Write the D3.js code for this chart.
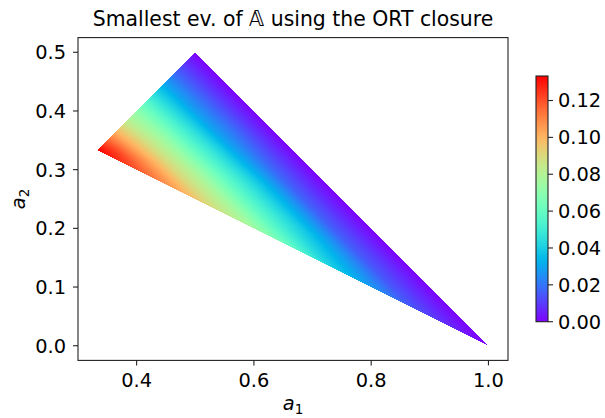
<!DOCTYPE html>
<html>
<head>
<meta charset="utf-8">
<script src="https://cdn.jsdelivr.net/npm/d3@7"></script>
<style>
  body { margin: 0; background: #fff; }
  svg { font-family: "DejaVu Sans", sans-serif; }
</style>
</head>
<body>
<div id="chart"></div>
<script>
// a3 = 1 - a1 - a2 levels (rows) and position across the triangle (columns):
// t = 0 on the a1 = a2 edge, t = 1 on the a2 = a3 edge
const a3Levels = [0, 1/30, 2/30, 3/30, 4/30, 5/30, 6/30, 7/30, 8/30, 9/30, 10/30];
const acrossSteps = [0, 0.25, 0.5, 0.75, 1];
// smallest eigenvalue
const smallestEv = [
  [0.000, 0.000, 0.000, 0.000, 0.000],
  [0.008, 0.009, 0.008, 0.008, 0.007],
  [0.017, 0.019, 0.017, 0.016, 0.015],
  [0.028, 0.029, 0.032, 0.031, 0.027],
  [0.041, 0.044, 0.046, 0.045, 0.040],
  [0.056, 0.058, 0.060, 0.059, 0.058],
  [0.070, 0.074, 0.076, 0.076, 0.075],
  [0.082, 0.087, 0.089, 0.089, 0.088],
  [0.098, 0.102, 0.105, 0.105, 0.104],
  [0.116, 0.120, 0.121, 0.120, 0.119],
  [0.1333, 0.1333, 0.1333, 0.1333, 0.1333]
];
const corners = [[1/3, 1/3], [0.5, 0.5], [1, 0]];
const xTicks = [0.4, 0.6, 0.8, 1.0];
const yTicks = [0.0, 0.1, 0.2, 0.3, 0.4, 0.5];
const cbTicks = [0.00, 0.02, 0.04, 0.06, 0.08, 0.10, 0.12];

const W = 605, H = 418;
const plot = {left: 78, right: 508, top: 37.6, bottom: 360.4};

const x = d3.scaleLinear().domain([0.3, 1 + 1/30]).range([plot.left, plot.right]);
const y = d3.scaleLinear().domain([-0.025, 0.525]).range([plot.bottom, plot.top]);

// matplotlib "rainbow"
const clip = v => Math.max(0, Math.min(1, v));
const mplRainbow = f => d3.rgb(
  255 * clip(Math.abs(2 * f - 0.5)),
  255 * clip(Math.sin(f * Math.PI)),
  255 * clip(Math.cos(f * Math.PI / 2))
);
const vmax = d3.max(smallestEv, r => d3.max(r));
const color = d3.scaleSequential(mplRainbow).domain([0, vmax]);

const svg = d3.select("#chart").append("svg")
  .attr("width", W).attr("height", H);

// field image
function evAt(a1, a2) {
  const c = 1 - a1 - a2;
  if (c < -1e-9 || a2 < c - 1e-9 || a1 < a2 - 1e-9) return null;
  const span = (1 - 3 * c) / 2;
  const t = span > 1e-9 ? clip((a1 - (1 - c) / 2) / span) : 0.5;
  const ri = clip(c / a3Levels[a3Levels.length - 1]) * (a3Levels.length - 1);
  const ci = t * (acrossSteps.length - 1);
  const i0 = Math.min(Math.floor(ri), a3Levels.length - 2), fi = ri - i0;
  const j0 = Math.min(Math.floor(ci), acrossSteps.length - 2), fj = ci - j0;
  const g = smallestEv;
  const top = g[i0][j0] * (1 - fj) + g[i0][j0 + 1] * fj;
  const bot = g[i0 + 1][j0] * (1 - fj) + g[i0 + 1][j0 + 1] * fj;
  return top * (1 - fi) + bot * fi;
}

const imgLeft = Math.round(plot.left), imgTop = Math.floor(plot.top);
const pw = Math.round(plot.right - plot.left), ph = Math.ceil(plot.bottom) - imgTop;
const canvas = document.createElement("canvas");
canvas.width = pw; canvas.height = ph;
const ctx = canvas.getContext("2d");
const img = ctx.createImageData(pw, ph);
for (let py = 0; py < ph; py++) {
  for (let px = 0; px < pw; px++) {
    const v = evAt(x.invert(imgLeft + px + 0.5), y.invert(imgTop + py + 0.5));
    if (v === null) continue;
    const c = color(v);
    const k = 4 * (py * pw + px);
    img.data[k] = c.r; img.data[k + 1] = c.g; img.data[k + 2] = c.b; img.data[k + 3] = 255;
  }
}
ctx.putImageData(img, 0, 0);
svg.append("image")
  .attr("x", imgLeft).attr("y", imgTop)
  .attr("width", pw).attr("height", ph)
  .attr("href", canvas.toDataURL());

// axes frame
svg.append("rect")
  .attr("x", plot.left).attr("y", plot.top)
  .attr("width", plot.right - plot.left).attr("height", plot.bottom - plot.top)
  .attr("fill", "none").attr("stroke", "#222").attr("stroke-width", 1.1);

const tickFont = "19.4px";
svg.append("g").selectAll("line").data(xTicks).join("line")
  .attr("x1", d => x(d)).attr("x2", d => x(d))
  .attr("y1", plot.bottom).attr("y2", plot.bottom + 5)
  .attr("stroke", "#222").attr("stroke-width", 1.1);
svg.append("g").selectAll("text").data(xTicks).join("text")
  .attr("x", d => x(d)).attr("y", 387)
  .attr("text-anchor", "middle").style("font-size", tickFont)
  .text(d => d.toFixed(1));

svg.append("g").selectAll("line").data(yTicks).join("line")
  .attr("x1", plot.left - 5).attr("x2", plot.left)
  .attr("y1", d => y(d)).attr("y2", d => y(d))
  .attr("stroke", "#222").attr("stroke-width", 1.1);
svg.append("g").selectAll("text").data(yTicks).join("text")
  .attr("x", 66).attr("y", d => y(d))
  .attr("dy", "0.36em")
  .attr("text-anchor", "end").style("font-size", tickFont)
  .text(d => d.toFixed(1));

// axis labels
const xl = svg.append("text")
  .attr("x", (plot.left + plot.right) / 2).attr("y", 410)
  .attr("text-anchor", "middle").style("font-size", "19.4px");
xl.append("tspan").style("font-style", "italic").text("a");
xl.append("tspan").attr("dy", 4).style("font-size", "13.5px").text("1");

const yl = svg.append("text")
  .attr("transform", `translate(25,${(plot.top + plot.bottom) / 2}) rotate(-90)`)
  .attr("text-anchor", "middle").style("font-size", "19.4px");
yl.append("tspan").style("font-style", "italic").text("a");
yl.append("tspan").attr("dy", 4).style("font-size", "13.5px").text("2");

// title
svg.append("text")
  .attr("x", (plot.left + plot.right) / 2).attr("y", 26)
  .attr("text-anchor", "middle").style("font-size", "20.4px")
  .text("Smallest ev. of 𝔸 using the ORT closure");

// colorbar
const cb = {left: 536, width: 12, top: 76, bottom: 321.7};
const cy = d3.scaleLinear().domain([0, vmax]).range([cb.bottom, cb.top]);
const grad = svg.append("defs").append("linearGradient")
  .attr("id", "cbgrad").attr("x1", 0).attr("y1", 1).attr("x2", 0).attr("y2", 0);
grad.selectAll("stop").data(d3.range(0, 1.0001, 0.02)).join("stop")
  .attr("offset", d => d)
  .attr("stop-color", d => color(d * vmax));
svg.append("rect")
  .attr("x", cb.left).attr("y", cb.top)
  .attr("width", cb.width).attr("height", cb.bottom - cb.top)
  .attr("fill", "url(#cbgrad)")
  .attr("stroke", "#222").attr("stroke-width", 1.1);
svg.append("g").selectAll("line").data(cbTicks).join("line")
  .attr("x1", cb.left + cb.width).attr("x2", cb.left + cb.width + 5)
  .attr("y1", d => cy(d)).attr("y2", d => cy(d))
  .attr("stroke", "#222").attr("stroke-width", 1.1);
svg.append("g").selectAll("text").data(cbTicks).join("text")
  .attr("x", 558).attr("y", d => cy(d))
  .attr("dy", "0.36em").style("font-size", tickFont)
  .text(d => d.toFixed(2));
</script>
</body>
</html>
